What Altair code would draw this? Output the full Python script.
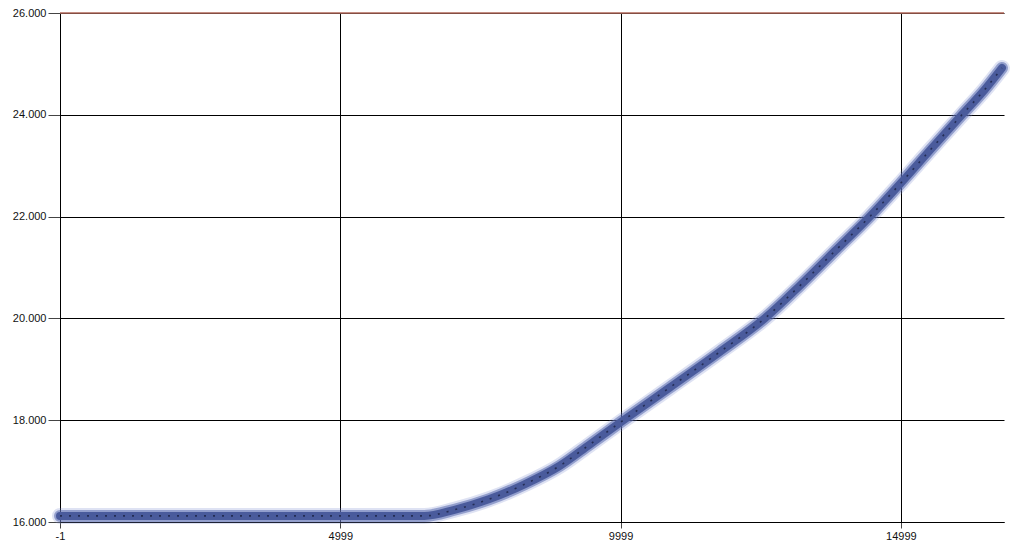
import altair as alt
import pandas as pd

# Data
xs = [-1, 1000, 2000, 3000, 4000, 5000, 6000, 6499, 7035, 7660, 8285, 8909, 9445,
      9999, 10874, 11767, 12570, 13195, 13820, 14445, 14999, 15516, 16088, 16499, 16803]
ys = [16.12, 16.12, 16.12, 16.12, 16.12, 16.12, 16.12, 16.12, 16.24, 16.45, 16.74, 17.10, 17.52,
      17.96, 18.64, 19.34, 20.00, 20.64, 21.32, 22.00, 22.66, 23.30, 24.00, 24.50, 24.92]
x_ticks = [-1, 4999, 9999, 14999]
y_ticks = [16, 18, 20, 22, 24, 26]
x_domain = [-1, 16839]
y_domain = [16, 26]

df = pd.DataFrame({"x": xs, "y": ys})
top_df = pd.DataFrame({"y": [26]})

FONT = "Liberation Sans"

xenc = alt.X("x:Q", scale=alt.Scale(domain=x_domain, nice=False, zero=False),
             axis=alt.Axis(values=x_ticks, title=None, labelExpr="'' + datum.value",
                           grid=True, gridColor="#000000",
                           gridOpacity=1, gridWidth=1, domainColor="#000000", tickColor="#444444",
                           tickSize=6, labelPadding=2, labelFont=FONT, labelFontSize=11,
                           labelColor="#111111", labelFlush=False))
yenc = alt.Y("y:Q", scale=alt.Scale(domain=y_domain, nice=False, zero=False),
             axis=alt.Axis(values=y_ticks, title=None, format=".3f", grid=True,
                           gridColor="#000000", gridOpacity=1, gridWidth=1,
                           domainColor="#000000", tickColor="#444444", tickSize=12,
                           labelPadding=2, labelFont=FONT, labelFontSize=11,
                           labelColor="#111111"))

base = alt.Chart(df)
glow = base.mark_line(color="#7a8ad0", strokeWidth=16, opacity=0.25,
                      strokeCap="round", strokeJoin="round", interpolate="monotone").encode(x=xenc, y=yenc)
mid = base.mark_line(color="#5668ad", strokeWidth=12, opacity=0.55,
                     strokeCap="round", strokeJoin="round", interpolate="monotone").encode(x="x:Q", y="y:Q")
core = base.mark_line(color="#4a5b9c", strokeWidth=8, opacity=1,
                      strokeCap="round", strokeJoin="round", interpolate="monotone").encode(x="x:Q", y="y:Q")
dash = base.mark_line(color="#141a38", strokeWidth=1.6, strokeDash=[2, 7],
                      opacity=0.7, interpolate="monotone").encode(x="x:Q", y="y:Q")
top = alt.Chart(top_df).mark_rule(color="#b0675a", strokeWidth=1.5).encode(y="y:Q")

chart = alt.layer(glow, mid, core, dash, top).properties(
    width=944, height=509,
    background="#ffffff",
    autosize=alt.AutoSizeParams(type="none"),
    padding={"left": 52, "top": 5, "right": 12, "bottom": 24},
).configure_view(stroke="transparent", strokeWidth=0)

chart.save("out.html", embed_options={"renderer": "svg", "actions": False})
